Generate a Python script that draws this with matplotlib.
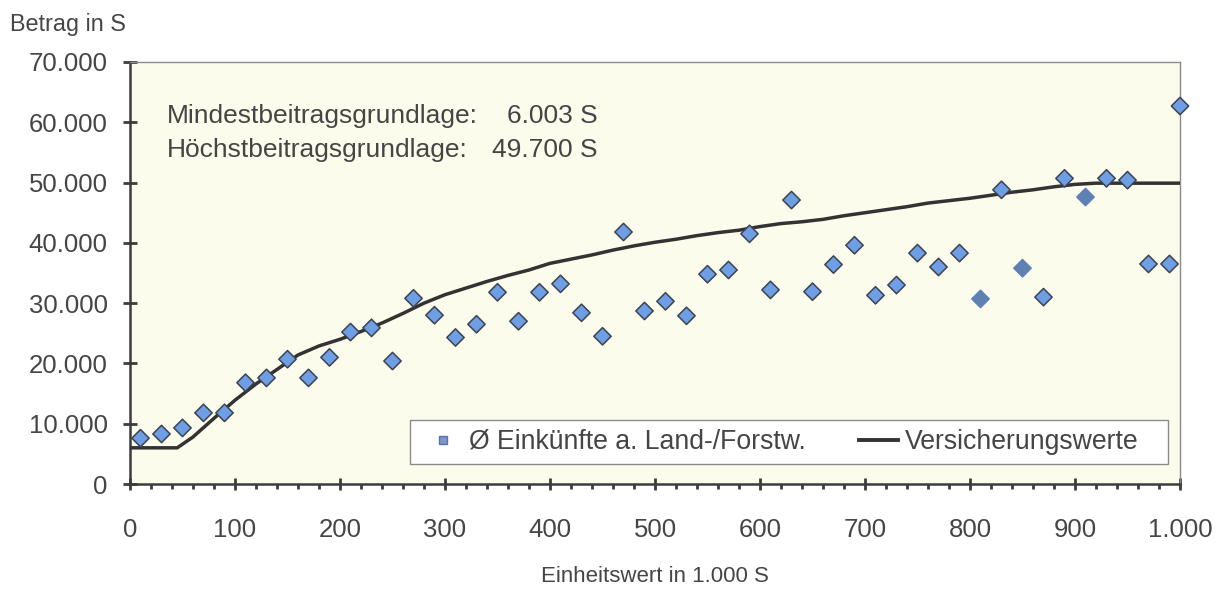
import matplotlib
matplotlib.use("Agg")
import matplotlib.pyplot as plt
from matplotlib.ticker import MultipleLocator, FuncFormatter
from matplotlib.lines import Line2D
from matplotlib.patches import Rectangle

plt.rcParams['font.family'] = ['Liberation Sans', 'DejaVu Sans']

# ---- data ----
scatter_x = [10, 30, 50, 70, 90, 110, 130, 150, 170, 190,
             210, 230, 250, 270, 290, 310, 330, 350, 370, 390,
             410, 430, 450, 470, 490, 510, 530, 550, 570, 590,
             610, 630, 650, 670, 690, 710, 730, 750, 770, 790,
             810, 830, 850, 870, 890, 910, 930, 950, 970, 990, 1000]
scatter_y = [7600, 8300, 9300, 11800, 11800, 16800, 17600, 20700, 17600, 21000,
             25200, 25900, 20400, 30800, 28000, 24300, 26500, 31800, 27000, 31800,
             33200, 28400, 24500, 41800, 28700, 30300, 27900, 34800, 35500, 41500,
             32200, 47100, 31900, 36400, 39600, 31300, 33000, 38300, 36000, 38300,
             30700, 48800, 35800, 31000, 50700, 47600, 50700, 50400, 36500, 36500, 62700]
darker_x = [810, 850, 910]

line_x = [0, 45, 60, 80, 100, 120, 140, 160, 180, 200,
          220, 240, 260, 280, 300, 320, 340, 360, 380, 400,
          420, 440, 460, 480, 500, 520, 540, 560, 580, 600,
          620, 640, 660, 680, 700, 720, 740, 760, 780, 800,
          820, 840, 860, 880, 900, 920, 940, 960, 980, 1000]
line_y = [6003, 6003, 7800, 10900, 13900, 16600, 19000, 21400, 22900, 24000,
          25300, 26700, 28300, 30000, 31400, 32500, 33600, 34600, 35500, 36600,
          37300, 38000, 38800, 39500, 40100, 40600, 41200, 41700, 42100, 42700,
          43200, 43500, 43900, 44500, 45000, 45500, 46000, 46600, 47000, 47400,
          47900, 48400, 48800, 49300, 49700, 49900, 49900, 49900, 49900, 49900]

series_labels = ["Ø Einkünfte a. Land-/Forstw.", "Versicherungswerte"]
info_labels = ["Mindestbeitragsgrundlage:", "Höchstbeitragsgrundlage:"]
info_values = ["6.003 S", "49.700 S"]
y_title = "Betrag in S"
x_title = "Einheitswert in 1.000 S"

# ---- figure ----
fig = plt.figure(figsize=(12.25, 5.9), dpi=100)
ax = fig.add_axes([130/1225, 1-484/590, 1050/1225, 422/590])
ax.set_facecolor('#FCFCEC')

text_c = '#454545'
axis_c = '#3c3c3c'

ax.plot(line_x, line_y, color='#333333', lw=2.5, solid_joinstyle='round', zorder=3)

face = ['#5F80B2' if x in darker_x else '#6E9EE4' for x in scatter_x]
edge = ['#5F80B2' if x in darker_x else '#3d4250' for x in scatter_x]
ax.scatter(scatter_x, scatter_y, marker='D', s=78, c=face, edgecolors=edge,
           linewidths=1.1, zorder=4, clip_on=False)

ax.set_xlim(0, 1000)
ax.set_ylim(0, 70000)
ax.xaxis.set_major_locator(MultipleLocator(100))
ax.xaxis.set_minor_locator(MultipleLocator(20))
ax.yaxis.set_major_locator(MultipleLocator(10000))
fmt = FuncFormatter(lambda v, p: f"{v:,.0f}".replace(",", "."))
ax.xaxis.set_major_formatter(fmt)
ax.yaxis.set_major_formatter(fmt)

for s in ['left', 'bottom']:
    ax.spines[s].set_color(axis_c)
    ax.spines[s].set_linewidth(1.8)
for s in ['top', 'right']:
    ax.spines[s].set_color('#8a8a8a')
    ax.spines[s].set_linewidth(1.0)

ax.tick_params(axis='x', which='major', direction='inout', length=9, width=2,
               color=axis_c, labelsize=18.5, labelcolor=text_c, pad=20)
ax.tick_params(axis='x', which='minor', direction='out', length=3.5, width=2,
               color=axis_c)
ax.tick_params(axis='y', which='major', direction='inout', length=10, width=2,
               color=axis_c, labelsize=18.5, labelcolor=text_c, pad=11)

ax.set_xlabel(x_title, fontsize=16, color=text_c, labelpad=17)
fig.text(10/1225, 1-31/590, y_title, fontsize=16.8, color=text_c, va='baseline', ha='left')

for i, (lab, val) in enumerate(zip(info_labels, info_values)):
    yb = (484 - (123 + 34*i)) / 422
    ax.text(37/1050, yb, lab, transform=ax.transAxes, fontsize=19, color=text_c,
            va='baseline', ha='left')
    ax.text(468/1050, yb, val, transform=ax.transAxes, fontsize=19, color=text_c,
            va='baseline', ha='right')

# legend frame drawn as a box in axes coordinates
ax.add_patch(Rectangle((280/1050, 20/422), 758/1050, 44/422, transform=ax.transAxes,
                       facecolor='white', edgecolor='#8a8a8a', lw=1.0, zorder=5))
handles = [Line2D([], [], ls='none', marker='s', ms=6, mfc='#7C97C8', mec='#5A73A5'),
           Line2D([], [], color='#333333', lw=2.8)]
leg = ax.legend(handles, series_labels, loc='center left',
                bbox_to_anchor=(294/1050, 42/422), borderaxespad=0, ncol=2,
                fontsize=19.2, frameon=False, borderpad=0,
                handlelength=1.45, handletextpad=0.25, columnspacing=2.0,
                labelcolor=text_c)
leg.set_zorder(6)

fig.savefig('out.png', dpi=100, facecolor='white')
